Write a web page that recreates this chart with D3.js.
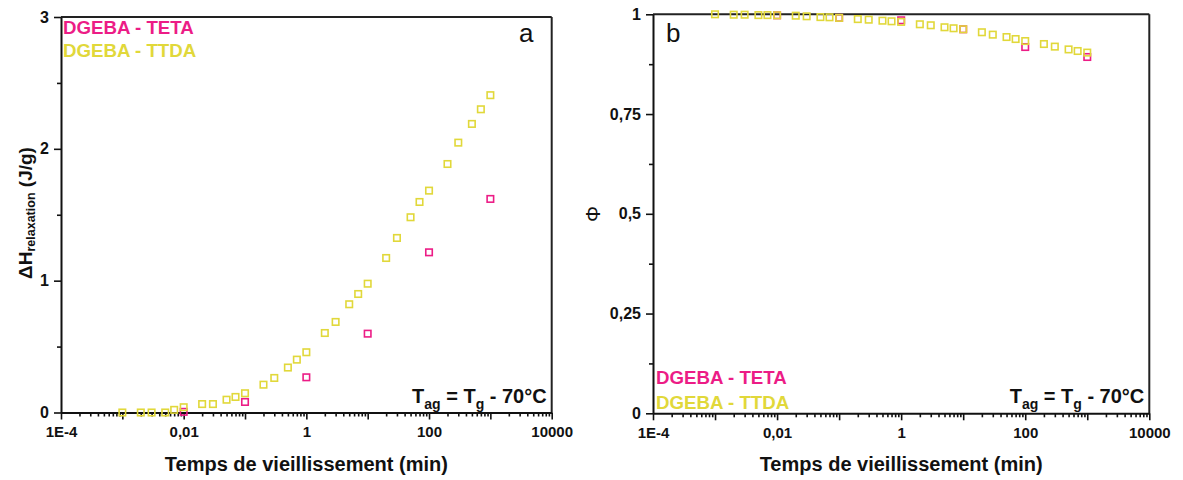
<!DOCTYPE html>
<html><head><meta charset="utf-8">
<script src="https://cdn.jsdelivr.net/npm/d3@7"></script>
<style>
html,body{margin:0;padding:0;background:#fff;}
svg{display:block;font-family:"Liberation Sans",Arial,sans-serif;}
</style></head>
<body>
<svg id="c" width="1183" height="480"></svg>
<script>
// ---- data ----
const timesTTDA = [0.001,0.002,0.003,0.005,0.007,0.01,0.02,0.03,0.05,0.07,0.1,0.2,0.3,0.5,0.7,1,2,3,5,7,10,20,30,50,70,100,200,300,500,700,1000];
const dhTTDA = [0,0,0,0,0.02,0.04,0.064,0.064,0.097,0.118,0.146,0.211,0.262,0.341,0.401,0.457,0.603,0.687,0.821,0.899,0.977,1.172,1.324,1.481,1.597,1.683,1.885,2.047,2.189,2.3,2.407];
const phiTTDA = [1,0.999,0.999,0.998,0.998,0.9975,0.9965,0.995,0.993,0.9925,0.991,0.988,0.9865,0.984,0.9825,0.981,0.975,0.9725,0.9675,0.965,0.9625,0.955,0.949,0.943,0.938,0.933,0.9255,0.919,0.912,0.908,0.904];
const timesTETA = [0.01,0.1,1,10,100,1000];
const dhTETA = [0.005,0.08,0.267,0.598,1.215,1.62];
const phiTETA = [0.9975,0.991,0.985,0.9625,0.918,0.893];
const seriesNames = ["DGEBA - TETA","DGEBA - TTDA"];
const xMajor = [1e-4,1e-3,1e-2,1e-1,1,10,100,1000,10000];
const xLabels = {"0.0001":"1E-4","0.01":"0,01","1":"1","100":"100","10000":"10000"};
const yLeftMajor = [0,1,2,3];
const yLeftMinor = [0.5,1.5,2.5];
const yRightMajor = [0,0.25,0.5,0.75,1];
const yRightLabels = ["0","0,25","0,5","0,75","1"];
const yRightMinor = [0.125,0.375,0.625,0.875];
const xTitle = "Temps de vieillissement (min)";

const PINK = "#ec1c86", YELLOW = "#e1d83a";
const svg = d3.select("#c");

const xMinor = [];
for (let e=-4; e<4; e++) for (let k=2;k<=9;k++) xMinor.push(k*Math.pow(10,e));

function panel(cfg){
  const g = svg.append("g");
  const x = d3.scaleLog().domain([1e-4,1e4]).range([cfg.x0,cfg.x1]);
  const y = d3.scaleLinear().domain(cfg.ydom).range([cfg.y0,cfg.y1]);
  g.append("line").attr("x1",cfg.x0).attr("x2",cfg.x1).attr("y1",cfg.y1).attr("y2",cfg.y1).attr("stroke","#222").attr("stroke-width",2);
  g.append("line").attr("x1",cfg.x1).attr("x2",cfg.x1).attr("y1",cfg.y1).attr("y2",cfg.y0).attr("stroke","#222").attr("stroke-width",2);
  const gxm = g.append("g").attr("transform",`translate(0,${cfg.y0})`)
    .call(d3.axisBottom(x).tickValues(xMinor).tickSize(4).tickSizeOuter(0).tickFormat(""));
  gxm.select(".domain").remove();
  const gx = g.append("g").attr("transform",`translate(0,${cfg.y0})`)
    .call(d3.axisBottom(x).tickValues(xMajor).tickSize(7).tickSizeOuter(0).tickPadding(4)
      .tickFormat(d => xLabels[String(d)] || ""));
  const gym = g.append("g").attr("transform",`translate(${cfg.x0},0)`)
    .call(d3.axisLeft(y).tickValues(cfg.yMinor).tickSize(4).tickSizeOuter(0).tickFormat(""));
  gym.select(".domain").remove();
  const gy = g.append("g").attr("transform",`translate(${cfg.x0},0)`)
    .call(d3.axisLeft(y).tickValues(cfg.yMajor).tickSize(7).tickSizeOuter(0).tickPadding(5)
      .tickFormat((d,i)=>cfg.yLabels[i]));
  g.selectAll(".tick line").attr("stroke","#111").attr("stroke-width",1.6);
  g.selectAll(".domain").attr("stroke","#111").attr("stroke-width",2);
  g.selectAll(".tick text").attr("font-size",15).attr("font-weight","bold").attr("fill","#111")
    .attr("font-family","'Liberation Sans',Arial,sans-serif");
  gy.selectAll(".tick text").attr("font-size",16);
  gx.selectAll(".tick text").attr("dy","0.9em");
  g.append("text").attr("x",(cfg.x0+cfg.x1)/2).attr("y",471).attr("text-anchor","middle")
    .attr("font-size",20).attr("font-weight","bold").attr("fill","#111").text(xTitle);
  const sq = 6.5;
  function draw(times, vals, color){
    g.append("g").selectAll("rect").data(times.map((t,i)=>[t,vals[i]])).join("rect")
      .attr("x",d=>x(d[0])-sq/2).attr("y",d=>y(d[1])-sq/2).attr("width",sq).attr("height",sq)
      .attr("fill","none").attr("stroke",color).attr("stroke-width",1.6);
  }
  draw(timesTETA, cfg.teta, PINK);
  draw(timesTTDA, cfg.ttda, YELLOW);
  const lg = g.append("g").attr("font-size",18.7).attr("font-weight","bold");
  lg.append("text").attr("x",cfg.lx).attr("y",cfg.ly).attr("fill",PINK).text(seriesNames[0]);
  lg.append("text").attr("x",cfg.lx).attr("y",cfg.ly+cfg.ldy).attr("fill",YELLOW).text(seriesNames[1]);
  const an = g.append("text").attr("x",cfg.x1-5).attr("y",403).attr("text-anchor","end")
    .attr("font-size",20).attr("font-weight","bold").attr("fill","#111");
  an.append("tspan").text("T");
  an.append("tspan").attr("font-size",14).attr("dy",6).text("ag");
  an.append("tspan").attr("dy",-6).text(" = T");
  an.append("tspan").attr("font-size",14).attr("dy",6).text("g");
  an.append("tspan").attr("dy",-6).text(" - 70°C");
  g.append("text").attr("x",cfg.letterX).attr("y",42).attr("font-size",26).attr("fill","#111").text(cfg.letter);
  return g;
}

panel({x0:61,x1:551.7,y0:412.5,y1:17,ydom:[0,3],yMajor:yLeftMajor,yMinor:yLeftMinor,
  yLabels:yLeftMajor.map(String),teta:dhTETA,ttda:dhTTDA,lx:63,ly:34,ldy:23,letter:"a",letterX:519});
panel({x0:653,x1:1149.3,y0:413.3,y1:14.3,ydom:[0,1],yMajor:yRightMajor,yMinor:yRightMinor,
  yLabels:yRightLabels,teta:phiTETA,ttda:phiTTDA,lx:656,ly:384,ldy:25,letter:"b",letterX:666});

const yl = svg.append("text").attr("transform","translate(32,213) rotate(-90)").attr("text-anchor","middle")
  .attr("font-size",19).attr("font-weight","bold").attr("fill","#111");
yl.append("tspan").text("ΔH");
yl.append("tspan").attr("font-size",12.5).attr("dy",3).text("relaxation");
yl.append("tspan").attr("dy",-3).text(" (J/g)");
svg.append("text").attr("transform","translate(600,214) rotate(-90)").attr("text-anchor","middle")
  .attr("font-size",20).attr("fill","#111").text("Φ");
</script>
</body></html>
